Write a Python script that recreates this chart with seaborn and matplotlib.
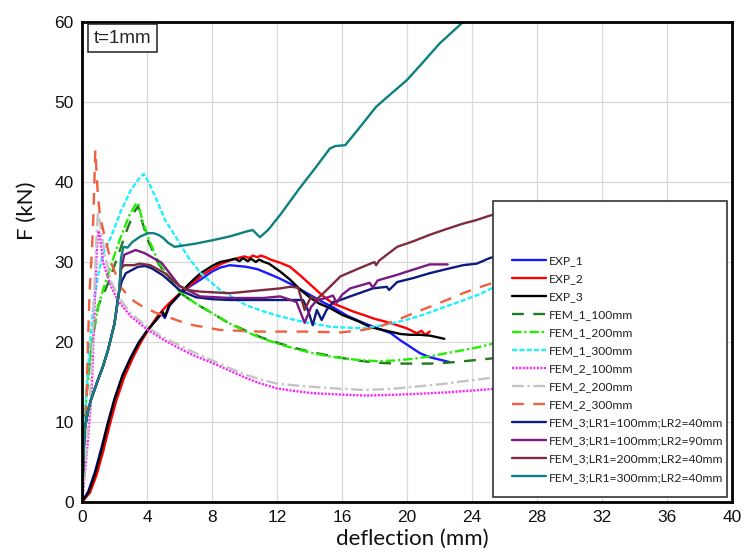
import matplotlib
matplotlib.use("Agg")
import matplotlib.pyplot as plt
from matplotlib.patches import Rectangle
import seaborn as sns
import pandas as pd

# ---- load-deflection data (deflection in mm, force in kN) ----
exp1_x = [0, 0.4, 0.8, 1.2, 1.6, 2.0, 2.5, 3.0, 3.5, 4.0, 4.5, 4.9, 5.1, 5.4, 6.0, 6.6, 7.3,
          8.0, 8.5, 9.1, 9.6, 10.1, 10.8, 11.4, 12.1, 12.8, 13.5, 14.2, 14.8, 15.4, 16.3, 17.3,
          18.2, 19.0, 19.6, 20.2, 20.8, 21.4, 22.0, 22.6]
exp1_f = [0, 1.4, 3.8, 6.8, 10.0, 12.9, 15.9, 18.1, 20.0, 21.4, 22.6, 23.5, 23.0, 24.6, 25.9,
          26.9, 27.8, 28.8, 29.3, 29.6, 29.5, 29.4, 29.1, 28.6, 28.0, 27.3, 26.5, 25.7, 25.0,
          24.4, 23.3, 22.4, 21.7, 21.1, 20.2, 19.4, 18.6, 18.1, 17.8, 17.5]

exp2_x = [0, 0.5, 0.9, 1.3, 1.7, 2.1, 2.6, 3.1, 3.6, 4.1, 4.6, 5.1, 5.6, 6.1, 6.7, 7.3, 7.9,
          8.5, 9.1, 9.6, 10.0, 10.3, 10.5, 10.8, 11.0, 11.3, 11.6, 12.2, 12.8, 13.5, 14.2, 14.8,
          15.45, 16.1, 16.7, 17.3, 18.0, 18.75, 19.4, 20.0, 20.6, 20.9, 21.1, 21.4]
exp2_f = [0, 1.2, 3.4, 6.3, 9.6, 12.6, 15.6, 17.9, 19.9, 21.6, 23.1, 24.3, 25.3, 26.2, 27.2,
          28.2, 29.0, 29.7, 30.2, 30.5, 30.7, 30.5, 30.8, 30.6, 30.8, 30.6, 30.3, 29.9, 29.4,
          28.2, 26.9, 25.8, 24.8, 24.3, 23.8, 23.4, 22.9, 22.5, 22.1, 21.7, 21.1, 21.4, 20.9, 21.3]

exp3_x = [0, 0.4, 0.8, 1.2, 1.6, 2.0, 2.5, 3.0, 3.5, 4.0, 4.5, 4.95, 5.1, 5.35, 6.0, 6.6, 7.3,
          8.0, 8.5, 9.0, 9.4, 9.7, 9.9, 10.2, 10.4, 10.7, 10.9, 11.2, 11.5, 12.2, 12.8, 13.4,
          14.0, 14.6, 15.3, 16.0, 16.5, 17.1, 17.7, 18.3, 18.95, 19.6, 20.2, 20.8, 21.4, 22.3]
exp3_f = [0, 1.2, 3.5, 6.5, 9.8, 12.8, 15.8, 18.0, 19.9, 21.4, 22.6, 23.8, 23.2, 24.5, 26.0,
          27.3, 28.6, 29.5, 30.0, 30.2, 30.4, 30.1, 30.5, 30.1, 30.4, 30.0, 30.3, 30.0, 29.8,
          28.8, 27.8, 26.6, 25.6, 24.8, 24.2, 23.4, 23.0, 22.5, 21.9, 21.6, 21.3, 21.0, 20.9,
          20.9, 20.8, 20.4]

fem1_100_x = [0, 0.1, 0.2, 0.4, 0.7, 1.0, 1.6, 2.2, 2.8, 3.2, 3.45, 3.6, 4.06, 4.7, 5.5, 6.0,
              7.0, 8.1, 9.0, 10.1, 11.0, 12.2, 13.2, 14.2, 15.2, 16.3, 17.3, 18.3, 19.3, 20.4,
              21.4, 22.4, 23.5, 24.5, 25.5, 27.0]
fem1_100_f = [0, 6, 11, 16.2, 21, 24.5, 27.3, 30.7, 34.2, 36.2, 37.0, 35.7, 32.7, 29.8, 27.6,
              26.2, 24.8, 23.5, 22.4, 21.4, 20.6, 19.8, 19.2, 18.7, 18.3, 17.9, 17.6, 17.4, 17.3,
              17.3, 17.3, 17.4, 17.6, 17.8, 18.0, 18.4]

fem1_200_x = [0, 0.1, 0.3, 0.6, 1.0, 1.4, 1.9, 2.4, 2.9, 3.3, 3.45, 3.7, 4.1, 4.7, 5.5, 6.0,
              7.0, 8.1, 9.0, 10.1, 11.0, 12.2, 13.2, 14.2, 15.2, 16.3, 17.3, 18.3, 19.3, 20.4,
              21.4, 22.4, 23.5, 24.5, 25.5, 27.0]
fem1_200_f = [0, 7, 14, 20, 24.5, 27.2, 30.3, 33.2, 35.8, 37.2, 37.4, 35.3, 32.9, 30.0, 27.7,
              26.3, 24.8, 23.5, 22.4, 21.3, 20.5, 19.7, 19.1, 18.6, 18.2, 17.9, 17.7, 17.6, 17.7,
              17.9, 18.2, 18.6, 19.0, 19.4, 19.9, 20.7]

fem1_300_x = [0, 0.1, 0.25, 0.45, 0.7, 1.0, 1.3, 1.8, 2.4, 3.0, 3.5, 3.8, 4.1, 4.5, 5.1, 5.9,
              6.5, 7.3, 8.5, 10.1, 11.2, 12.2, 13.2, 14.2, 15.3, 16.3, 17.3, 18.2, 19.0, 20.0,
              21.0, 22.2, 23.45, 24.5, 25.3, 27.0]
fem1_300_f = [0, 6, 13, 19, 24.5, 28.5, 31.0, 33.2, 36.4, 39.0, 40.4, 41.0, 40.0, 38.2, 35.3,
              32.7, 30.7, 28.6, 26.5, 24.6, 23.8, 23.2, 22.7, 22.3, 21.9, 21.8, 21.7, 22.0, 22.3,
              22.8, 23.4, 24.3, 25.2, 26.0, 26.8, 28.4]

fem2_100_x = [0, 0.2, 0.4, 0.6, 0.75, 0.9, 1.0, 1.1, 1.3, 1.8, 2.2, 3.0, 4.06, 5.0, 6.0, 7.0,
              7.9, 9.0, 10.1, 11.0, 12.0, 13.0, 14.2, 15.2, 16.3, 17.5, 19.1, 20.5, 22.4, 23.8,
              25.1, 27.0]
fem2_100_f = [0, 4, 8.5, 14, 23, 31, 33.9, 33.4, 29.9, 26.9, 25.2, 23.2, 21.5, 20.3, 19.2, 18.2,
              17.5, 16.5, 15.5, 14.8, 14.2, 13.9, 13.6, 13.5, 13.4, 13.3, 13.4, 13.5, 13.7, 13.9,
              14.1, 14.5]

fem2_200_x = [0, 0.2, 0.4, 0.6, 0.75, 0.9, 0.98, 1.1, 1.4, 1.8, 2.3, 3.0, 4.06, 5.0, 6.0, 7.0,
              8.0, 9.0, 10.1, 11.0, 12.0, 13.0, 14.2, 15.5, 17.3, 18.8, 20.4, 22.0, 23.5, 25.1, 27.0]
fem2_200_f = [0, 4.5, 10, 17, 26, 33.5, 36.3, 35, 31, 27.5, 25.5, 23.6, 21.8, 20.6, 19.6, 18.6,
              17.7, 16.8, 15.9, 15.3, 14.8, 14.6, 14.4, 14.2, 14.0, 14.1, 14.4, 14.7, 15.1, 15.5, 16.1]

fem2_300_x = [0, 0.06, 0.25, 0.37, 0.47, 0.6, 0.7, 0.82, 0.9, 0.98, 1.1, 1.3, 1.8, 2.4, 2.75,
              3.2, 3.76, 4.5, 5.2, 6.0, 6.85, 8.5, 10.9, 13.8, 15.9, 17.3, 18.4, 19.4, 20.4, 21.4,
              22.4, 23.45, 24.4, 25.3, 27.0]
fem2_300_f = [0, 4.9, 10.7, 20, 26.5, 31, 35.7, 44, 41, 38.2, 36, 34, 29.9, 26.8, 26.0, 25.1,
              24.4, 23.7, 23.2, 22.6, 22.1, 21.5, 21.3, 21.3, 21.2, 21.5, 22.0, 22.75, 23.6, 24.4,
              25.2, 26.1, 26.8, 27.4, 28.6]

fem3_a_x = [0, 0.08, 0.16, 0.35, 0.55, 0.98, 1.3, 1.6, 2.0, 2.2, 2.3, 2.45, 2.7, 3.45, 3.9, 4.3,
            5.0, 6.0, 7.0, 8.0, 9.1, 12.2, 13.6, 13.9, 14.2, 14.45, 14.75, 15.05, 15.45, 15.9,
            16.5, 17.9, 18.75, 18.9, 19.4, 20.4, 21.4, 22.4, 23.45, 24.3, 25.1, 27.0]
fem3_a_f = [0, 5, 9, 11.2, 12.75, 15.25, 17, 19, 22.3, 25.2, 26.5, 27.6, 28.6, 29.4, 29.5, 29.2,
            28.3, 26.5, 25.6, 25.35, 25.25, 25.25, 25.25, 24.0, 22.1, 24.0, 22.75, 24.0, 25.0,
            25.25, 25.7, 26.7, 26.9, 26.5, 27.5, 28.0, 28.6, 29.1, 29.6, 29.8, 30.5, 31.4]

fem3_b_x = [0, 0.08, 0.16, 0.35, 0.55, 0.98, 1.3, 1.6, 2.0, 2.2, 2.3, 2.4, 2.6, 3.3, 3.86, 4.9,
            6.0, 7.26, 9.1, 11.15, 12.2, 13.2, 13.7, 14.1, 14.45, 15.0, 15.45, 15.67, 16.0, 16.5,
            17.7, 17.9, 18.2, 19.4, 20.0, 21.4, 22.5]
fem3_b_f = [0, 5, 9, 11.2, 12.75, 15.25, 17, 19, 22.3, 25.2, 26.5, 29.0, 30.9, 31.5, 31.1, 29.9,
            27.0, 25.7, 25.5, 25.5, 25.7, 25.0, 22.4, 24.4, 25.2, 25.5, 25.8, 24.9, 25.9, 26.7,
            27.4, 26.8, 27.7, 28.4, 28.8, 29.7, 29.7]

fem3_c_x = [0, 0.08, 0.16, 0.35, 0.55, 0.98, 1.3, 1.6, 2.0, 2.2, 2.3, 2.4, 2.6, 3.2, 3.55, 4.2,
            5.1, 6.0, 6.5, 7.26, 9.1, 11.15, 12.2, 12.8, 13.3, 13.7, 14.1, 14.4, 14.8, 15.26,
            15.9, 17.1, 18.0, 18.1, 18.3, 19.4, 20.4, 21.4, 22.4, 23.45, 24.2, 25.1, 27.0]
fem3_c_f = [0, 5, 9, 11.2, 12.75, 15.25, 17, 19, 22.3, 25.2, 26.5, 29.2, 29.6, 29.6, 29.8, 29.6,
            28.6, 27.0, 26.5, 26.3, 26.1, 26.5, 26.7, 26.9, 26.8, 24.0, 25.7, 25.25, 26.0, 26.9,
            28.2, 29.25, 30.0, 29.6, 30.2, 31.9, 32.6, 33.4, 34.1, 34.8, 35.2, 35.8, 36.8]

fem3_d_x = [0, 0.08, 0.16, 0.35, 0.55, 0.98, 1.3, 1.6, 2.0, 2.2, 2.3, 2.4, 2.55, 2.8, 3.1, 3.6,
            4.06, 4.4, 4.7, 5.0, 5.3, 5.7, 6.03, 7.0, 8.1, 9.1, 10.1, 10.5, 10.95, 11.45, 12.2,
            13.4, 14.3, 15.26, 15.6, 16.2, 17.0, 18.1, 19.0, 20.0, 21.0, 22.0, 23.45, 23.7]
fem3_d_f = [0, 5, 9, 11.2, 12.75, 15.25, 17, 19, 22.3, 25.2, 26.5, 30.5, 31.9, 31.8, 32.5, 33.2,
            33.6, 33.6, 33.4, 33.0, 32.4, 31.9, 32.0, 32.3, 32.75, 33.2, 33.8, 34.0, 33.1, 34.0,
            35.9, 39.25, 41.6, 44.2, 44.5, 44.6, 46.6, 49.4, 51.0, 52.75, 55.0, 57.3, 60.0, 60.5]

labels = ["EXP_1", "EXP_2", "EXP_3", "FEM_1_100mm", "FEM_1_200mm", "FEM_1_300mm",
          "FEM_2_100mm", "FEM_2_200mm", "FEM_2_300mm",
          "FEM_3;LR1=100mm;LR2=40mm", "FEM_3;LR1=100mm;LR2=90mm",
          "FEM_3;LR1=200mm;LR2=40mm", "FEM_3;LR1=300mm;LR2=40mm"]
x_ticks = [0, 4, 8, 12, 16, 20, 24, 28, 32, 36, 40]
y_ticks = [0, 10, 20, 30, 40, 50, 60]

series = [
    (exp1_x, exp1_f), (exp2_x, exp2_f), (exp3_x, exp3_f),
    (fem1_100_x, fem1_100_f), (fem1_200_x, fem1_200_f), (fem1_300_x, fem1_300_f),
    (fem2_100_x, fem2_100_f), (fem2_200_x, fem2_200_f), (fem2_300_x, fem2_300_f),
    (fem3_a_x, fem3_a_f), (fem3_b_x, fem3_b_f), (fem3_c_x, fem3_c_f), (fem3_d_x, fem3_d_f),
]

styles = [
    dict(color="#1a1aff", ls="-"),
    dict(color="#ff0000", ls="-"),
    dict(color="#000000", ls="-"),
    dict(color="#1e7b1e", ls=(0, (5, 4))),
    dict(color="#22ee00", ls=(0, (4, 1.2, 1, 1.2))),
    dict(color="#22eeff", ls=(0, (2.2, 0.9))),
    dict(color="#ff22ff", ls=(0, (0.9, 0.6))),
    dict(color="#c4c4c4", ls=(0, (5, 1.5, 1, 1.5))),
    dict(color="#f0603f", ls=(0, (5, 4))),
    dict(color="#0d1a80", ls="-"),
    dict(color="#7a1a80", ls="-"),
    dict(color="#7d2c3e", ls="-"),
    dict(color="#0e8080", ls="-"),
]

sns.set_theme(style="white")
plt.rcParams["font.family"] = ["Liberation Sans", "DejaVu Sans"]

fig = plt.figure(figsize=(7.44, 5.53), dpi=100)
ax = fig.add_axes([82 / 744, 1 - 502 / 553, 650 / 744, 480 / 553])

for (xs, fs), lab, st in zip(series, labels, styles):
    df = pd.DataFrame({"deflection": xs, "F": fs})
    sns.lineplot(data=df, x="deflection", y="F", ax=ax, sort=False, estimator=None,
                 color=st["color"], linestyle=st["ls"], linewidth=1.7, label=lab, zorder=2)

ax.set_xlim(0, 40)
ax.set_ylim(0, 60)
ax.set_xticks(x_ticks)
ax.set_yticks(y_ticks)
ax.grid(True, color="#d9d9d9", linewidth=0.9, zorder=0)
ax.set_axisbelow(True)
ax.tick_params(axis="both", length=0, pad=6, labelsize=12.5, labelcolor="#111111")
for sp in ax.spines.values():
    sp.set_color("black")
    sp.set_linewidth(2.0)
    sp.set_zorder(6)

ax.set_xlabel("deflection (mm)", fontsize=16, family="Lato", color="#111111")
ax.set_ylabel("F (kN)", fontsize=16, family="Lato", color="#111111")
ax.xaxis.set_label_coords(0.508, -0.055)
ax.yaxis.set_label_coords(-0.07, 0.606)

# thickness annotation
ax.text(0.0175, 0.984, "t=1mm", transform=ax.transAxes, ha="left", va="top", fontsize=13.5,
        zorder=7, bbox=dict(boxstyle="square,pad=0.3", fc="white", ec="#222222", lw=1.1))

# legend panel
ax.add_patch(Rectangle((0.632, 0.0104), 0.360, 0.617, transform=ax.transAxes,
                       facecolor="white", edgecolor="#333333", linewidth=1.2, zorder=4))
handles, labs = ax.get_legend_handles_labels()
leg = ax.legend(handles, labs, loc="upper left", bbox_to_anchor=(0.6615, 0.515),
                frameon=False, borderaxespad=0, borderpad=0, handlelength=2.8,
                handletextpad=0.25, labelspacing=0.585, prop={"family": "Lato", "size": 8.7})
leg.set_zorder(5)
for t in leg.get_texts():
    t.set_color("#222222")

fig.savefig("out.png", dpi=100)
